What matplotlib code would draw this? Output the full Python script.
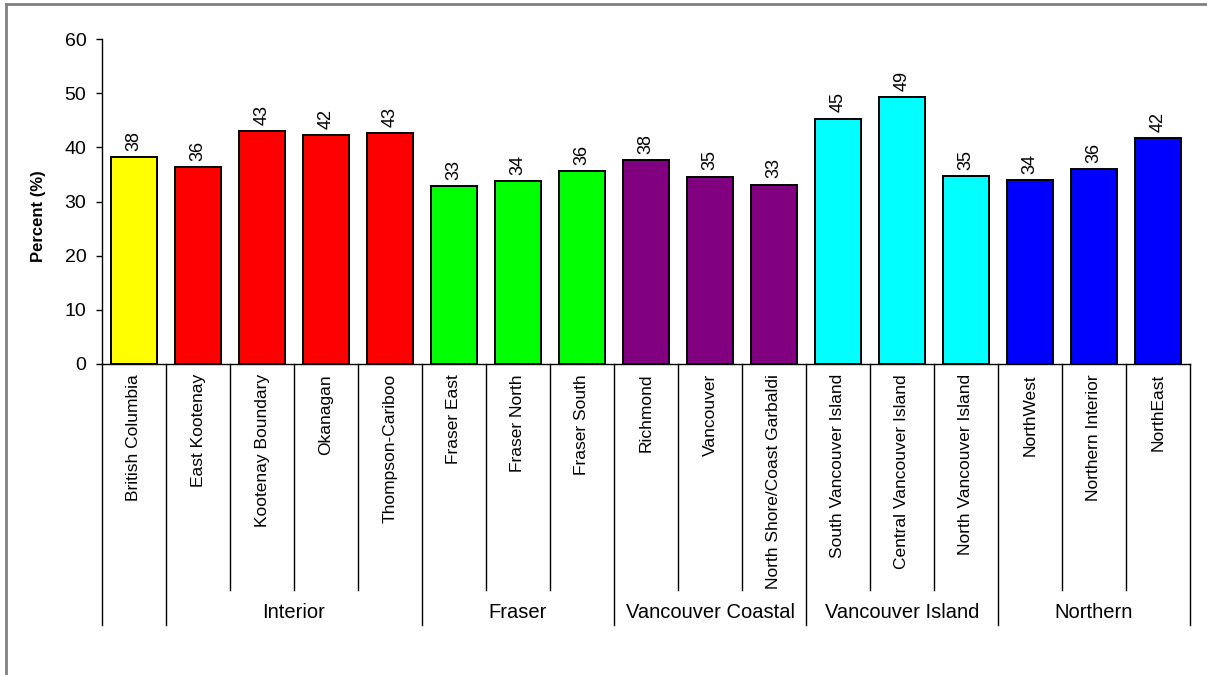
import matplotlib
matplotlib.use("Agg")
import matplotlib.pyplot as plt
from matplotlib.transforms import blended_transform_factory
from matplotlib.lines import Line2D

plt.rcParams['font.family'] = ['Liberation Sans', 'DejaVu Sans']

# Health service delivery areas and their percentages
areas = ["British Columbia", "East Kootenay", "Kootenay Boundary", "Okanagan",
         "Thompson-Cariboo", "Fraser East", "Fraser North", "Fraser South",
         "Richmond", "Vancouver", "North Shore/Coast Garbaldi",
         "South Vancouver Island", "Central Vancouver Island",
         "North Vancouver Island", "NorthWest", "Northern Interior", "NorthEast"]
percent = [38.2, 36.3, 43.0, 42.3, 42.6, 32.8, 33.8, 35.6, 37.6, 34.6, 33.1,
           45.3, 49.3, 34.7, 33.9, 36.0, 41.7]

# Health authorities: (name, first area index, last area index)
authorities = [("", 0, 0), ("Interior", 1, 4), ("Fraser", 5, 7),
               ("Vancouver Coastal", 8, 10), ("Vancouver Island", 11, 13),
               ("Northern", 14, 16)]
authority_colors = ["#FFFF00", "#FF0000", "#00FF00", "#800080", "#00FFFF", "#0000FF"]

W, H = 1207, 675
fig = plt.figure(figsize=(W / 100, H / 100), dpi=100)
ax = fig.add_axes([102 / W, (H - 364) / H, (1190 - 102) / W, (364 - 39) / H])

colors = []
for (name, a, b), c in zip(authorities, authority_colors):
    colors += [c] * (b - a + 1)

x = list(range(len(areas)))
ax.bar(x, percent, width=0.71, color=colors, edgecolor="black", linewidth=1.4, zorder=3)

for xi, v in zip(x, percent):
    ax.annotate(f"{v:.0f}", (xi, v), xytext=(0, 4.5), textcoords="offset points",
                rotation=90, ha="center", va="bottom", fontsize=13)

ax.set_xlim(-0.5, len(areas) - 0.5)
ax.set_ylim(0, 60)
ax.set_yticks(range(0, 61, 10))
ax.tick_params(axis="y", direction="out", length=4.3, width=1, pad=7, labelsize=14)
ax.set_xticks([])
for s in ("top", "right"):
    ax.spines[s].set_visible(False)
ax.spines["left"].set_linewidth(1)
ax.spines["bottom"].set_linewidth(1)
ax.set_ylabel("Percent (%)", fontsize=12, fontweight="bold")
ax.yaxis.label.set_va("center")
ax.yaxis.set_label_coords((39 - 102) / (1190 - 102), (364 - 216) / (364 - 39))

# Area labels and separators beneath the axis
trans = blended_transform_factory(ax.transData, fig.transFigure)
def fy(py):
    return (H - py) / H

for xi, name in zip(x, areas):
    ax.text(xi, fy(374), name, rotation=90, ha="center", va="top", fontsize=12.5,
            transform=trans, clip_on=False)

group_edges = {0, 1}
for name, a, b in authorities:
    group_edges.add(b + 1)
for k in range(len(areas) + 1):
    bottom = 625 if k in group_edges else 590
    ax.add_line(Line2D([k - 0.5, k - 0.5], [fy(364), fy(bottom)], transform=trans,
                       color="black", linewidth=1, clip_on=False))

for name, a, b in authorities:
    if name:
        ax.text((a + b) / 2, fy(612), name, ha="center", va="center", fontsize=14.5,
                transform=trans, clip_on=False)

# Chart frame
fig.add_artist(Line2D([6 / W, 6 / W], [0, fy(4)], transform=fig.transFigure,
                      color="#808080", linewidth=2))
fig.add_artist(Line2D([6 / W, 1], [fy(4), fy(4)], transform=fig.transFigure,
                      color="#808080", linewidth=2))

fig.savefig("out.png", dpi=100)
